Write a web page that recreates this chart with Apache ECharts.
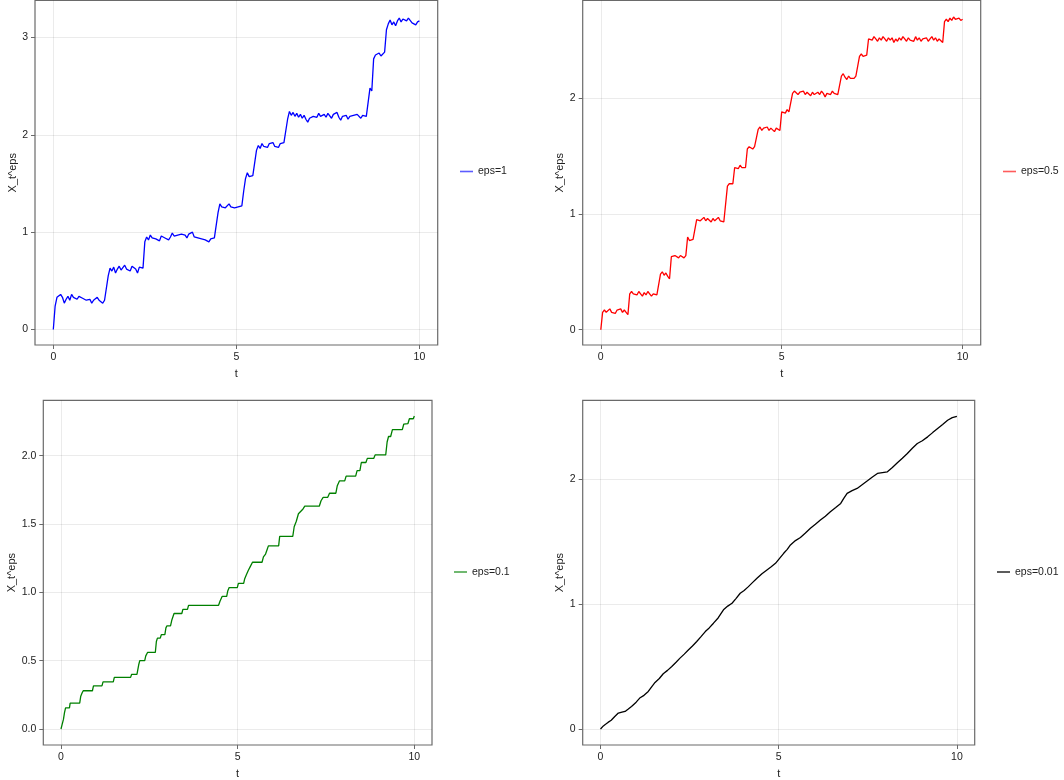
<!DOCTYPE html>
<html>
<head>
<meta charset="utf-8">
<script src="https://cdn.jsdelivr.net/npm/echarts@6/dist/echarts.min.js"></script>
<style>
html,body{margin:0;padding:0;background:#fff;}
#chart{width:1064px;height:780px;}
</style>
</head>
<body>
<div id="chart"></div>
<script>
// shared time grid for eps=1 and eps=0.5
const tGrid = [
0,0.05,0.1,0.15,0.2,0.25,0.3,0.35,0.4,0.45,0.5,0.55,0.6,0.65,0.7,0.75,0.8,0.85,0.9,0.95,
1,1.05,1.1,1.15,1.2,1.25,1.3,1.35,1.4,1.45,1.5,1.55,1.6,1.65,1.7,1.75,1.8,1.85,1.9,1.95,
2,2.05,2.1,2.15,2.2,2.25,2.3,2.35,2.4,2.45,2.5,2.55,2.6,2.65,2.7,2.75,2.8,2.85,2.9,2.95,
3,3.05,3.1,3.15,3.2,3.25,3.3,3.35,3.4,3.45,3.5,3.55,3.6,3.65,3.7,3.75,3.8,3.85,3.9,3.95,
4,4.05,4.1,4.15,4.2,4.25,4.3,4.35,4.4,4.45,4.5,4.55,4.6,4.65,4.7,4.75,4.8,4.85,4.9,4.95,
5,5.05,5.1,5.15,5.2,5.25,5.3,5.35,5.4,5.45,5.5,5.55,5.6,5.65,5.7,5.75,5.8,5.85,5.9,5.95,
6,6.05,6.1,6.15,6.2,6.25,6.3,6.35,6.4,6.45,6.5,6.55,6.6,6.65,6.7,6.75,6.8,6.85,6.9,6.95,
7,7.05,7.1,7.15,7.2,7.25,7.3,7.35,7.4,7.45,7.5,7.55,7.6,7.65,7.7,7.75,7.8,7.85,7.9,7.95,
8,8.05,8.1,8.15,8.2,8.25,8.3,8.35,8.4,8.45,8.5,8.55,8.6,8.65,8.7,8.75,8.8,8.85,8.9,8.95,
9,9.05,9.1,9.15,9.2,9.25,9.3,9.35,9.4,9.45,9.5,9.55,9.6,9.65,9.7,9.75,9.8,9.85,9.9,9.95,
10];

const xEps1 = [
0,0.24,0.33,0.31,0.36,0.33,0.27,0.31,0.34,0.30,0.36,0.33,0.35,0.31,0.34,0.36,0.32,0.34,0.30,0.28,
0.31,0.27,0.30,0.28,0.33,0.30,0.31,0.27,0.30,0.29,0.55,0.63,0.60,0.64,0.58,0.62,0.65,0.61,0.63,0.66,
0.62,0.64,0.60,0.65,0.67,0.62,0.58,0.64,0.65,0.63,0.90,0.95,0.92,0.97,0.94,0.96,0.93,0.95,0.91,0.96,
0.98,0.94,0.96,0.92,0.95,0.99,0.96,0.94,0.97,0.95,0.98,0.96,0.97,0.94,0.98,0.96,1.00,0.95,0.97,0.94,
0.96,0.93,0.95,0.92,0.94,0.90,0.93,0.91,0.94,0.92,1.20,1.29,1.26,1.28,1.25,1.27,1.29,1.26,1.28,1.25,
1.27,1.26,1.28,1.27,1.42,1.55,1.61,1.57,1.55,1.58,1.60,1.84,1.89,1.86,1.91,1.88,1.90,1.87,1.91,1.89,
1.92,1.88,1.90,1.87,1.91,1.89,1.92,1.90,2.16,2.24,2.20,2.23,2.19,2.22,2.18,2.21,2.17,2.20,2.16,2.13,
2.17,2.15,2.19,2.21,2.18,2.22,2.19,2.17,2.21,2.18,2.22,2.20,2.17,2.21,2.19,2.23,2.18,2.15,2.19,2.17,
2.20,2.16,2.19,2.17,2.20,2.18,2.21,2.19,2.17,2.20,2.22,2.19,2.17,2.48,2.45,2.78,2.82,2.80,2.84,2.81,
2.83,2.85,3.08,3.14,3.18,3.13,3.16,3.12,3.17,3.20,3.16,3.19,3.21,3.17,3.20,3.18,3.15,3.17,3.13,3.16,
3.17];

const xEps05 = [
0,0.15,0.17,0.15,0.16,0.18,0.15,0.16,0.14,0.17,0.16,0.18,0.15,0.17,0.15,0.13,0.31,0.33,0.31,0.32,
0.30,0.33,0.31,0.29,0.32,0.30,0.33,0.31,0.29,0.31,0.32,0.30,0.29,0.48,0.50,0.47,0.49,0.46,0.44,0.63,
0.62,0.64,0.63,0.62,0.64,0.63,0.62,0.64,0.80,0.77,0.76,0.78,0.77,0.95,0.96,0.94,0.95,0.97,0.94,0.96,
0.95,0.93,0.96,0.94,0.95,0.97,0.94,0.95,0.93,0.94,1.24,1.26,1.25,1.26,1.40,1.41,1.39,1.42,1.40,1.41,
1.40,1.56,1.58,1.57,1.56,1.58,1.57,1.73,1.75,1.72,1.74,1.73,1.75,1.72,1.74,1.73,1.71,1.74,1.73,1.72,
1.88,1.89,1.87,1.90,1.88,1.89,2.04,2.06,2.05,2.03,2.05,2.04,2.06,2.03,2.05,2.04,2.02,2.05,2.03,2.04,
2.05,2.03,2.06,2.04,2.01,2.04,2.05,2.03,2.06,2.04,2.05,2.03,2.04,2.19,2.21,2.18,2.16,2.19,2.17,2.18,
2.17,2.19,2.18,2.36,2.38,2.36,2.35,2.37,2.51,2.52,2.50,2.53,2.51,2.49,2.52,2.50,2.53,2.51,2.49,2.52,
2.50,2.52,2.48,2.51,2.49,2.52,2.50,2.53,2.51,2.49,2.52,2.50,2.51,2.49,2.53,2.50,2.52,2.49,2.51,2.50,
2.52,2.49,2.51,2.53,2.50,2.52,2.49,2.51,2.50,2.48,2.66,2.68,2.66,2.69,2.67,2.70,2.68,2.67,2.69,2.67,
2.68];

const tEps01 = [0,0.03,0.07,0.10,0.13,0.24,0.26,0.53,0.56,0.60,0.63,0.89,0.92,1.16,1.19,1.48,1.51,1.97,2.00,2.15,
2.20,2.23,2.37,2.40,2.45,2.67,2.70,2.73,2.81,2.84,2.94,2.97,3.00,3.10,3.14,3.20,3.42,3.45,3.58,3.61,
4.46,4.50,4.56,4.69,4.72,4.76,4.99,5.02,5.17,5.20,5.25,5.30,5.36,5.42,5.69,5.73,5.79,5.83,5.87,6.16,
6.19,6.56,6.60,6.66,6.72,6.85,6.90,7.31,7.36,7.42,7.55,7.60,7.78,7.82,7.88,8.03,8.07,8.34,8.38,8.46,
8.50,8.63,8.67,8.85,8.89,9.19,9.23,9.27,9.33,9.38,9.66,9.70,9.82,9.86,9.97,10.0];
const xEps01 = [0,0.03,0.07,0.12,0.155,0.155,0.19,0.19,0.24,0.265,0.28,0.28,0.315,0.315,0.345,0.345,0.378,0.378,0.40,0.40,
0.47,0.50,0.50,0.535,0.56,0.56,0.64,0.665,0.665,0.69,0.69,0.74,0.755,0.755,0.80,0.845,0.845,0.875,0.875,0.905,
0.905,0.935,0.97,0.97,1.01,1.035,1.035,1.065,1.065,1.10,1.13,1.16,1.19,1.22,1.22,1.26,1.28,1.31,1.34,1.34,
1.41,1.41,1.48,1.52,1.575,1.61,1.63,1.63,1.67,1.695,1.695,1.725,1.725,1.78,1.815,1.815,1.85,1.85,1.89,1.89,
1.95,1.95,1.98,1.98,2.005,2.005,2.10,2.14,2.14,2.19,2.19,2.23,2.235,2.27,2.27,2.29];

const tEps001 = [0,0.08,0.15,0.21,0.3,0.4,0.5,0.6,0.69,0.78,0.87,1.0,1.1,1.22,1.34,1.44,1.53,1.65,1.76,1.88,
2.0,2.12,2.23,2.35,2.47,2.58,2.7,2.82,2.94,3.05,3.17,3.3,3.45,3.57,3.69,3.8,3.92,4.03,4.15,4.27,
4.39,4.53,4.67,4.79,4.91,5.03,5.14,5.24,5.33,5.47,5.61,5.75,5.89,6.03,6.17,6.31,6.45,6.6,6.74,6.83,
6.92,7.06,7.2,7.35,7.49,7.63,7.77,7.91,8.05,8.19,8.33,8.47,8.61,8.75,8.89,9.03,9.18,9.32,9.46,9.6,
9.74,9.87,10];
const xEps001 = [0,0.025,0.04,0.053,0.07,0.10,0.128,0.135,0.141,0.16,0.181,0.215,0.248,0.27,0.301,0.34,0.373,0.405,0.443,0.47,
0.501,0.535,0.568,0.60,0.635,0.665,0.701,0.74,0.781,0.81,0.848,0.89,0.955,0.985,1.008,1.045,1.088,1.11,1.141,1.175,
1.208,1.245,1.275,1.30,1.328,1.37,1.408,1.44,1.475,1.51,1.535,1.57,1.608,1.64,1.674,1.705,1.741,1.775,1.808,1.85,
1.888,1.91,1.928,1.96,1.989,2.02,2.048,2.055,2.061,2.095,2.133,2.17,2.208,2.25,2.288,2.31,2.341,2.375,2.408,2.44,
2.474,2.495,2.506];

const seriesNames = ['eps=1','eps=0.5','eps=0.1','eps=0.01'];
const xTicks = [0,5,10];
const yTicks = [[0,1,2,3],[0,1,2],[0,0.5,1.0,1.5,2.0],[0,1,2]];
const xLabel = 't';
const yLabel = 'X_t^eps';

function pairs(t, v){ const out=[]; for(let i=0;i<t.length;i++) out.push([t[i], v[i]]); return out; }

const colors = ['#0000ff','#ff0000','#008000','#000000'];
const legendColors = ['#5c5cff','#ff5c5c','#4ca64c','#333333'];
const grids = [
  {left:35, top:0.5, width:402.7, height:344.5},
  {left:582.7, top:0.5, width:398, height:344.5},
  {left:43.3, top:400.3, width:388.7, height:345},
  {left:582.7, top:400.3, width:392, height:345}
];
const yRanges = [[-0.16,3.38],[-0.132,2.842],[-0.117,2.405],[-0.128,2.634]];
const yNameGaps = [15,15,24,16];
const legendPos = [[460,166],[1003,166],[454,566.5],[997,566.5]];
const dataSets = [pairs(tGrid,xEps1), pairs(tGrid,xEps05), pairs(tEps01,xEps01), pairs(tEps001,xEps001)];

const font = 'Liberation Sans, Arial, Helvetica, sans-serif';
const frameColor = '#6a6a6a';
const gridColor = 'rgba(0,0,0,0.08)';

const option = {
  backgroundColor:'#ffffff',
  animation:false,
  grid: grids.map(g => Object.assign({show:true, borderColor:frameColor, borderWidth:1.2, backgroundColor:'transparent', containLabel:false}, g)),
  xAxis: grids.map((g,i) => ({
    type:'value', gridIndex:i, min:-0.5, max:10.5, position:'bottom',
    name:xLabel, nameLocation:'middle', nameGap:23,
    nameTextStyle:{fontFamily:font, fontSize:11, color:'#222'},
    axisLine:{show:false, onZero:false},
    axisTick:{show:true, length:4, inside:false, customValues:xTicks, lineStyle:{color:frameColor, width:1}},
    axisLabel:{customValues:xTicks, fontFamily:font, fontSize:10.5, color:'#222', margin:7},
    splitLine:{show:true, lineStyle:{color:gridColor, width:1}}
  })),
  yAxis: grids.map((g,i) => ({
    type:'value', gridIndex:i, min:yRanges[i][0], max:yRanges[i][1], position:'left',
    name:yLabel, nameLocation:'middle', nameGap:yNameGaps[i], nameRotate:90,
    nameTextStyle:{fontFamily:font, fontSize:11, color:'#222'},
    axisLine:{show:false, onZero:false},
    axisTick:{show:true, length:4, inside:false, customValues:yTicks[i], lineStyle:{color:frameColor, width:1}},
    axisLabel:{customValues:yTicks[i], fontFamily:font, fontSize:10.5, color:'#222', margin:7,
      formatter: i===2 ? (v => Number(v).toFixed(1)) : (v => String(Math.round(v)))},
    splitLine:{show:true, lineStyle:{color:gridColor, width:1}}
  })),
  legend: seriesNames.map((n,i) => ({
    data:[n], left:legendPos[i][0], top:legendPos[i][1], orient:'vertical', padding:0,
    icon:'rect', itemWidth:13, itemHeight:1.6, itemGap:0,
    itemStyle:{color:legendColors[i]},
    textStyle:{fontFamily:font, fontSize:10.5, color:'#222'},
    selectedMode:false
  })),
  series: seriesNames.map((n,i) => ({
    name:n, type:'line', xAxisIndex:i, yAxisIndex:i, data:dataSets[i],
    showSymbol:false, symbol:'none', smooth:false,
    lineStyle:{color:colors[i], width:1.3}, itemStyle:{color:colors[i]},
    emphasis:{disabled:true}
  }))
};

const chart = echarts.init(document.getElementById('chart'), null, {renderer:'canvas'});
chart.setOption(option);
</script>
</body>
</html>
